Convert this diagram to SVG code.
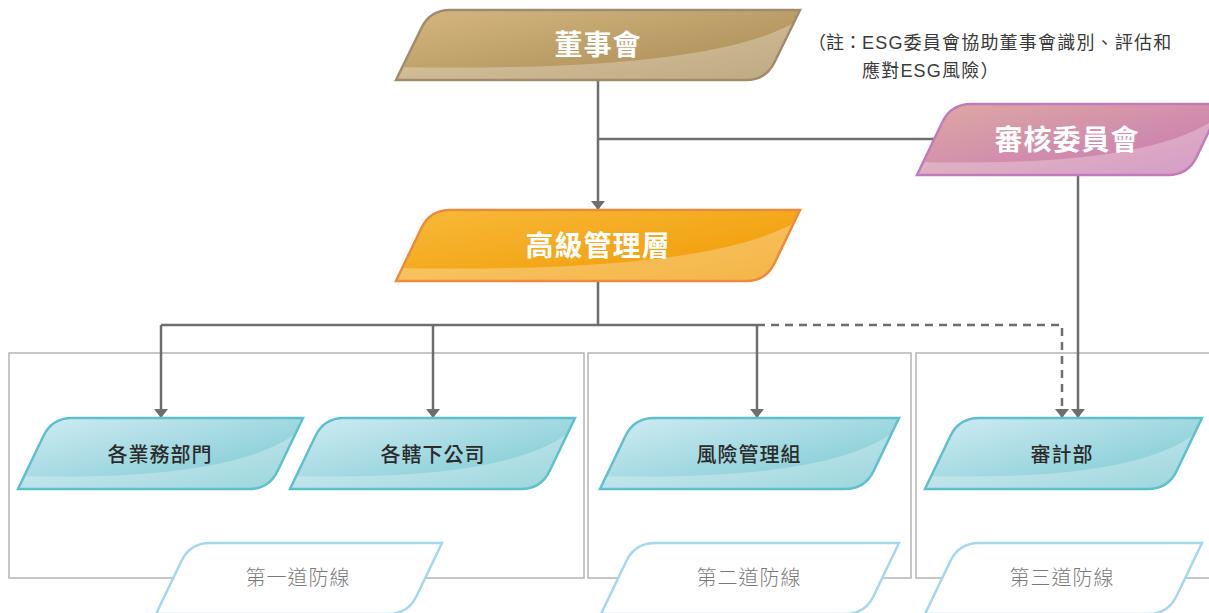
<svg xmlns="http://www.w3.org/2000/svg" xmlns:xlink="http://www.w3.org/1999/xlink" width="1209" height="613" viewBox="0 0 1209 613">
<style>
.cjk{font-family:"Noto Sans CJK TC","Noto Sans CJK SC",sans-serif;}
.note{font-family:"Liberation Sans","Noto Sans CJK TC",sans-serif;font-size:18px;fill:#3a3a3a;letter-spacing:1.2px;}
.tight{letter-spacing:0;}
.big{font-size:28px;font-weight:bold;fill:#ffffff;text-anchor:middle;letter-spacing:1px;}
.mid{font-size:20px;font-weight:500;fill:#2b2b2b;text-anchor:middle;letter-spacing:1px;}
.lbl{font-size:20px;font-weight:300;fill:#7a7a7a;text-anchor:middle;letter-spacing:1px;}
.band{fill:#ffffff;opacity:0.28;}
.box{fill:none;stroke:#b4b4b4;stroke-width:1.5;}
.conn{fill:none;stroke:#6e6e6e;stroke-width:2.5;}
.arr{marker-end:url(#ah);}
.dash{stroke-dasharray:8 6;}
.bluestroke{fill:none;stroke:#5fc0cd;stroke-width:2.5;}
.lblshape{fill:#ffffff;stroke:#a3d8ee;stroke-width:2.5;}
</style>
<defs>
<marker id="ah" viewBox="0 0 9 14" refX="9" refY="7" markerWidth="9" markerHeight="14" markerUnits="userSpaceOnUse" orient="auto">
<path d="M0,0 L9,7 L0,14 Z" fill="#6e6e6e"/>
</marker>
<linearGradient id="g-board" x1="0" y1="0" x2="1" y2="1"><stop offset="0" stop-color="#d6b77f"/><stop offset="1" stop-color="#a48853"/></linearGradient>
<linearGradient id="g-senior" x1="0" y1="0" x2="1" y2="1"><stop offset="0" stop-color="#f7ba3a"/><stop offset="1" stop-color="#f19800"/></linearGradient>
<linearGradient id="g-audit" x1="0" y1="0" x2="1" y2="1"><stop offset="0" stop-color="#dea9a3"/><stop offset="1" stop-color="#c676b3"/></linearGradient>
<linearGradient id="g-blue" x1="0" y1="0" x2="1" y2="1"><stop offset="0" stop-color="#d2ecf3"/><stop offset="1" stop-color="#73c6cf"/></linearGradient>
<path id="s-board" d="M396,80 L421.4,28 Q430,10 450,10 L800,10 L774.6,62 Q766,80 746,80 Z"/>
<path id="s-senior" d="M396,281 L421.4,228 Q430,210 450,210 L800,210 L774.6,263 Q766,281 746,281 Z"/>
<path id="s-audit" d="M917,175 L942.4,122 Q951,104 971,104 L1222,104 L1196.6,157 Q1188,175 1168,175 Z"/>
<path id="s-n1" d="M18,489 L43.4,436 Q52,418 72,418 L303,418 L277.6,471 Q269,489 249,489 Z"/>
<path id="s-n2" d="M290,489 L315.4,436 Q324,418 344,418 L575,418 L549.6,471 Q541,489 521,489 Z"/>
<path id="s-n3" d="M600,489 L625.4,436 Q634,418 654,418 L899,418 L873.6,471 Q865,489 845,489 Z"/>
<path id="s-n4" d="M925,489 L950.4,436 Q959,418 979,418 L1202,418 L1176.6,471 Q1168,489 1148,489 Z"/>
<clipPath id="c-board"><use xlink:href="#s-board"/></clipPath>
<clipPath id="c-senior"><use xlink:href="#s-senior"/></clipPath>
<clipPath id="c-audit"><use xlink:href="#s-audit"/></clipPath>
<clipPath id="c-n1"><use xlink:href="#s-n1"/></clipPath>
<clipPath id="c-n2"><use xlink:href="#s-n2"/></clipPath>
<clipPath id="c-n3"><use xlink:href="#s-n3"/></clipPath>
<clipPath id="c-n4"><use xlink:href="#s-n4"/></clipPath>
</defs>

<g id="line-boxes">
<rect class="box" x="9" y="353" width="575" height="225"/>
<rect class="box" x="588" y="353" width="323" height="225"/>
<rect class="box" x="916" y="353" width="305" height="225"/>
</g>

<g id="connectors">
<path class="conn arr" d="M598,80 V210"/>
<path class="conn" d="M598,139 H934"/>
<path class="conn" d="M598,281 V325"/>
<path class="conn" d="M161,325 H757"/>
<path class="conn arr" d="M161,325 V418"/>
<path class="conn arr" d="M433,325 V418"/>
<path class="conn arr" d="M757,325 V418"/>
<path class="conn dash arr" d="M757,325 H1062 V418"/>
<path class="conn arr" d="M1078,175 V418"/>
</g>

<g id="board">
<use xlink:href="#s-board" fill="url(#g-board)"/>
<path class="band" clip-path="url(#c-board)" d="M386,67 L396,67 Q719,73 802,18 L802,85 L386,85 Z"/>
<use xlink:href="#s-board" fill="none" stroke="#a08b6d" stroke-width="2.5"/>
<text class="cjk big" x="598" y="43" dominant-baseline="central">董事會</text>
</g>

<g id="note">
<text class="note tight" x="808" y="49">（註：</text>
<text class="note" x="862" y="49">ESG委員會協助董事會識別、評估和</text>
<text class="note" x="862" y="77">應對ESG風險）</text>
</g>

<g id="audit-committee">
<use xlink:href="#s-audit" fill="url(#g-audit)"/>
<path class="band" clip-path="url(#c-audit)" d="M907,162 L917,162 Q1161,168 1224,112 L1224,180 L907,180 Z"/>
<use xlink:href="#s-audit" fill="none" stroke="#c27bb8" stroke-width="2.5"/>
<text class="cjk big" x="1067" y="138" dominant-baseline="central">審核委員會</text>
</g>

<g id="senior-management">
<use xlink:href="#s-senior" fill="url(#g-senior)"/>
<path class="band" clip-path="url(#c-senior)" d="M386,268 L396,268 Q719,274 802,218 L802,286 L386,286 Z"/>
<use xlink:href="#s-senior" fill="none" stroke="#ee8a3c" stroke-width="2.5"/>
<text class="cjk big" x="598" y="244" dominant-baseline="central">高級管理層</text>
</g>

<g id="business-units">
<use xlink:href="#s-n1" fill="url(#g-blue)"/>
<path class="band" clip-path="url(#c-n1)" d="M8,476 L18,476 Q246,482 305,426 L305,494 L8,494 Z"/>
<use xlink:href="#s-n1" class="bluestroke"/>
<text class="cjk mid" x="160" y="453" dominant-baseline="central">各業務部門</text>
</g>

<g id="subsidiaries">
<use xlink:href="#s-n2" fill="url(#g-blue)"/>
<path class="band" clip-path="url(#c-n2)" d="M280,476 L290,476 Q518,482 577,426 L577,494 L280,494 Z"/>
<use xlink:href="#s-n2" class="bluestroke"/>
<text class="cjk mid" x="433" y="453" dominant-baseline="central">各轄下公司</text>
</g>

<g id="risk-management">
<use xlink:href="#s-n3" fill="url(#g-blue)"/>
<path class="band" clip-path="url(#c-n3)" d="M590,476 L600,476 Q839,482 901,426 L901,494 L590,494 Z"/>
<use xlink:href="#s-n3" class="bluestroke"/>
<text class="cjk mid" x="749" y="453" dominant-baseline="central">風險管理組</text>
</g>

<g id="internal-audit">
<use xlink:href="#s-n4" fill="url(#g-blue)"/>
<path class="band" clip-path="url(#c-n4)" d="M915,476 L925,476 Q1147,482 1204,426 L1204,494 L915,494 Z"/>
<use xlink:href="#s-n4" class="bluestroke"/>
<text class="cjk mid" x="1062" y="453" dominant-baseline="central">審計部</text>
</g>

<g id="line1-label">
<path class="lblshape" d="M156,614 L181.4,561 Q190,543 210,543 L442,543 L416.6,596 Q408,614 388,614 Z"/>
<text class="cjk lbl" x="298" y="576" dominant-baseline="central">第一道防線</text>
</g>
<g id="line2-label">
<path class="lblshape" d="M601,614 L626.4,561 Q635,543 655,543 L899,543 L873.6,596 Q865,614 845,614 Z"/>
<text class="cjk lbl" x="749" y="576" dominant-baseline="central">第二道防線</text>
</g>
<g id="line3-label">
<path class="lblshape" d="M925,614 L950.4,561 Q959,543 979,543 L1202,543 L1176.6,596 Q1168,614 1148,614 Z"/>
<text class="cjk lbl" x="1062" y="576" dominant-baseline="central">第三道防線</text>
</g>
</svg>
